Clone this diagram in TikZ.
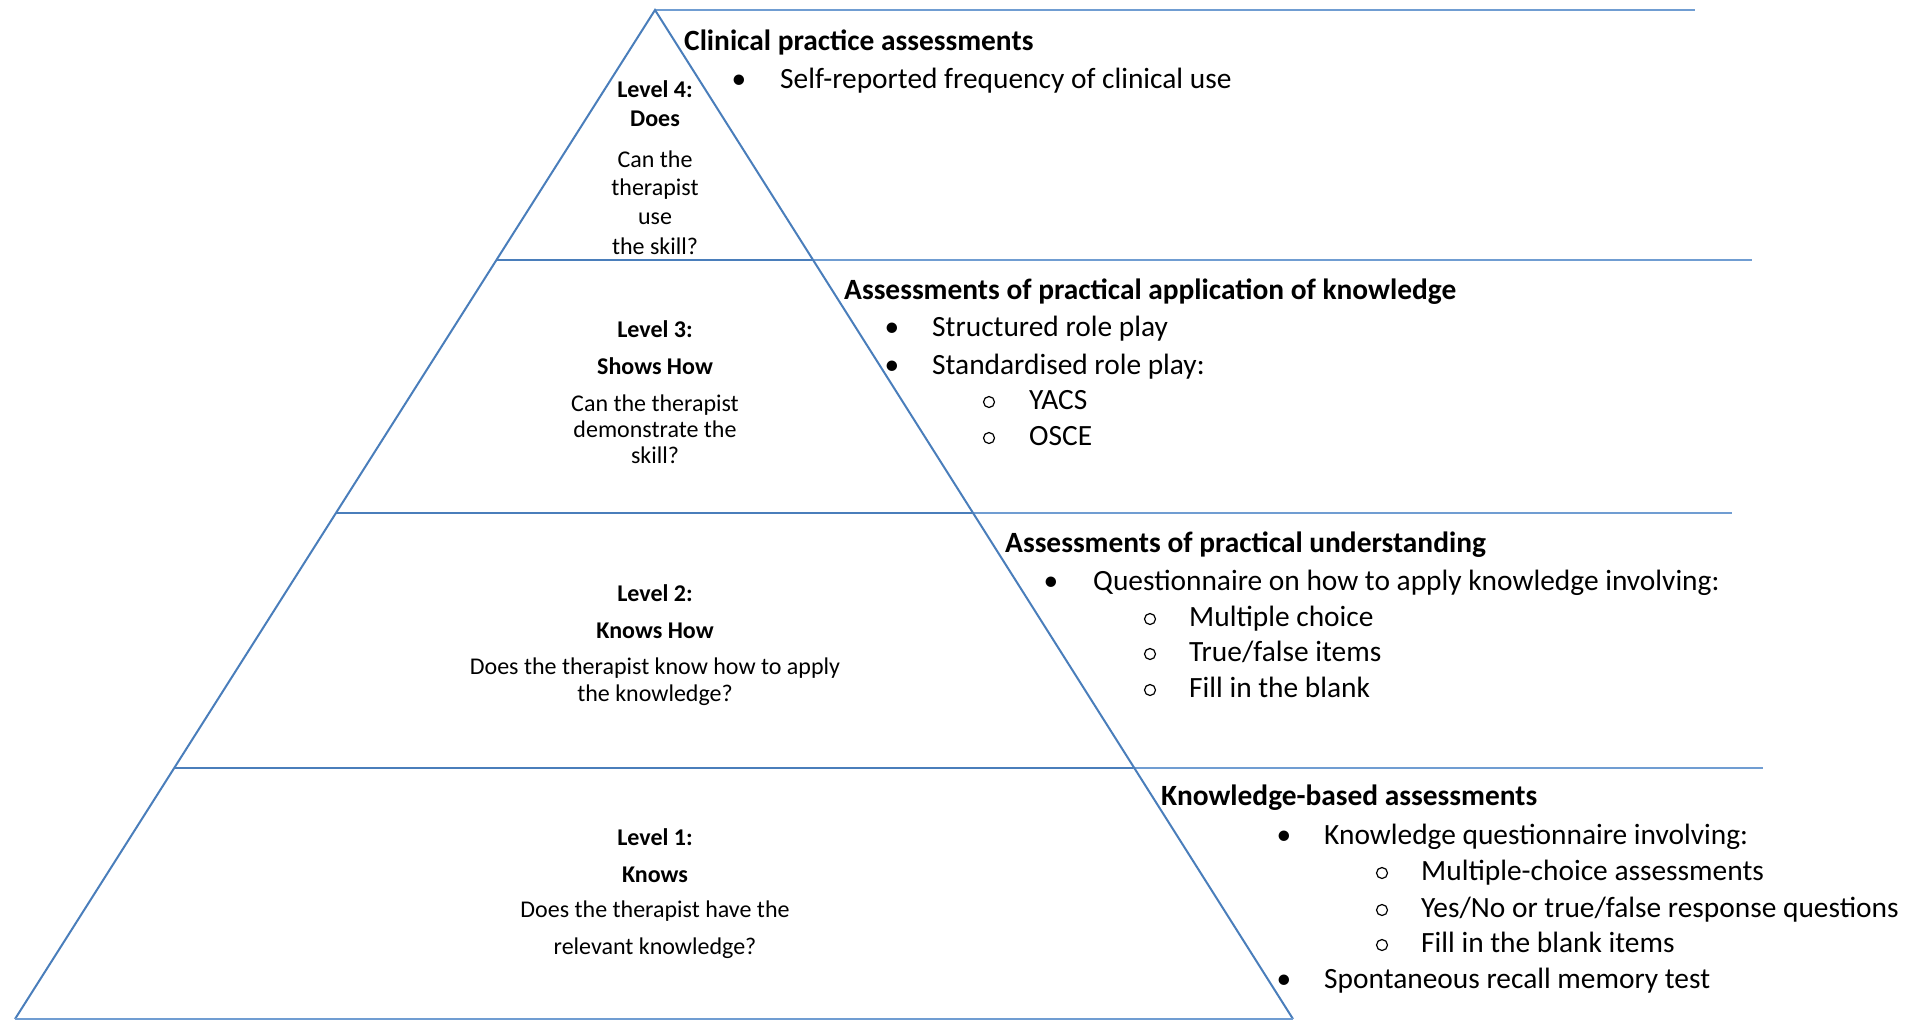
\documentclass[tikz,border=0pt]{standalone}
\usepackage{fontspec}
\setmainfont{Carlito}
\definecolor{pyr}{RGB}{74,126,187}
\definecolor{ext}{RGB}{112,157,210}
\begin{document}
\begin{tikzpicture}[x=1pt,y=-1pt,
  lab/.style={inner sep=0pt, anchor=base, font=\fontsize{24}{29}\selectfont},
  labb/.style={inner sep=0pt, anchor=base, font=\fontsize{24}{29}\selectfont\bfseries},
  ttl/.style={inner sep=0pt, anchor=base west, font=\fontsize{29.4}{35}\selectfont\bfseries},
  itm/.style={inner sep=0pt, anchor=base west, font=\fontsize{29.4}{35}\selectfont},
  bul/.style={inner sep=0pt, anchor=base, font=\fontsize{29.4}{35}\selectfont},
  circ/.style={circle, draw=black, line width=1.2pt, inner sep=0pt, minimum size=11pt},
  pedge/.style={draw=pyr, line width=2pt},
  prule/.style={draw=ext, line width=1.5pt}]
\useasboundingbox (0,0) rectangle (1926,1021);
% pyramid geometry
\coordinate (apex) at (655,10);
\coordinate (bl) at (15,1019);
\coordinate (br) at (1293,1019);
\coordinate (l43) at (496,260);  \coordinate (r43) at (813,260);
\coordinate (l32) at (336,513);  \coordinate (r32) at (973,513);
\coordinate (l21) at (174,768);  \coordinate (r21) at (1133,768);
\coordinate (e4) at (1695,10);
\coordinate (e43) at (1752,260);
\coordinate (e32) at (1732,513);
\coordinate (e21) at (1763,768);
% extension rules
\draw[prule] (apex) -- (e4);
\draw[prule] (r43) -- (e43);
\draw[prule] (r32) -- (e32);
\draw[prule] (r21) -- (e21);
% pyramid
\draw[pedge] (bl) -- (apex) -- (br);
\draw[prule] (bl) -- (br);
\draw[pedge] (l43) -- (r43);
\draw[pedge] (l32) -- (r32);
\draw[pedge] (l21) -- (r21);
% Level 4 labels
\node[labb] (l4a) at (655,97) {Level 4:};
\node[labb] (l4b) at (655,126) {Does};
\node[lab] (l4c) at (655,167) {Can the};
\node[lab] (l4d) at (655,195) {therapist};
\node[lab] (l4e) at (655,224) {use};
\node[lab] (l4f) at (655,254) {the skill?};
% Level 3 labels
\node[labb] (l3a) at (655,337) {Level 3:};
\node[labb] (l3b) at (655,374) {Shows How};
\node[lab] (l3c) at (655,411) {Can the therapist};
\node[lab] (l3d) at (655,437) {demonstrate the};
\node[lab] (l3e) at (655,463) {skill?};
% Level 2 labels
\node[labb] (l2a) at (655,601) {Level 2:};
\node[labb] (l2b) at (655,638) {Knows How};
\node[lab] (l2c) at (655,674) {Does the therapist know how to apply};
\node[lab] (l2d) at (655,701) {the knowledge?};
% Level 1 labels
\node[labb] (l1a) at (655,845) {Level 1:};
\node[labb] (l1b) at (655,882) {Knows};
\node[lab] (l1c) at (655,917) {Does the therapist have the};
\node[lab] (l1d) at (655,954) {relevant knowledge?};
% Level 4 assessments
\node[ttl] (t4) at (684,50) {Clinical practice assessments};
\node[bul] (b41) at (739,88) {•};
\node[itm] (i41) at (780,88) {Self-reported frequency of clinical use};
% Level 3 assessments
\node[ttl] (t3) at (844,299) {Assessments of practical application of knowledge};
\node[bul] (b31) at (892,336) {•};
\node[itm] (i31) at (932,336) {Structured role play};
\node[bul] (b32) at (892,374) {•};
\node[itm] (i32) at (932,374) {Standardised role play:};
\node[circ] (c31) at (989,402) {};
\node[itm] (s31) at (1029,409) {YACS};
\node[circ] (c32) at (989,438) {};
\node[itm] (s32) at (1029,445) {OSCE};
% Level 2 assessments
\node[ttl] (t2) at (1005,552) {Assessments of practical understanding};
\node[bul] (b21) at (1051,590) {•};
\node[itm] (i21) at (1093,590) {Questionnaire on how to apply knowledge involving:};
\node[circ] (c21) at (1150,619) {};
\node[itm] (s21) at (1189,626) {Multiple choice};
\node[circ] (c22) at (1150,654) {};
\node[itm] (s22) at (1189,661) {True/false items};
\node[circ] (c23) at (1150,690) {};
\node[itm] (s23) at (1189,697) {Fill in the blank};
% Level 1 assessments
\node[ttl] (t1) at (1161,805) {Knowledge-based assessments};
\node[bul] (b11) at (1284,844) {•};
\node[itm] (i11) at (1324,844) {Knowledge questionnaire involving:};
\node[circ] (c11) at (1382,873) {};
\node[itm] (s11) at (1421,880) {Multiple-choice assessments};
\node[circ] (c12) at (1382,910) {};
\node[itm] (s12) at (1421,917) {Yes/No or true/false response questions};
\node[circ] (c13) at (1382,945) {};
\node[itm] (s13) at (1421,952) {Fill in the blank items};
\node[bul] (b12) at (1284,988) {•};
\node[itm] (i12) at (1324,988) {Spontaneous recall memory test};
\end{tikzpicture}
\end{document}
